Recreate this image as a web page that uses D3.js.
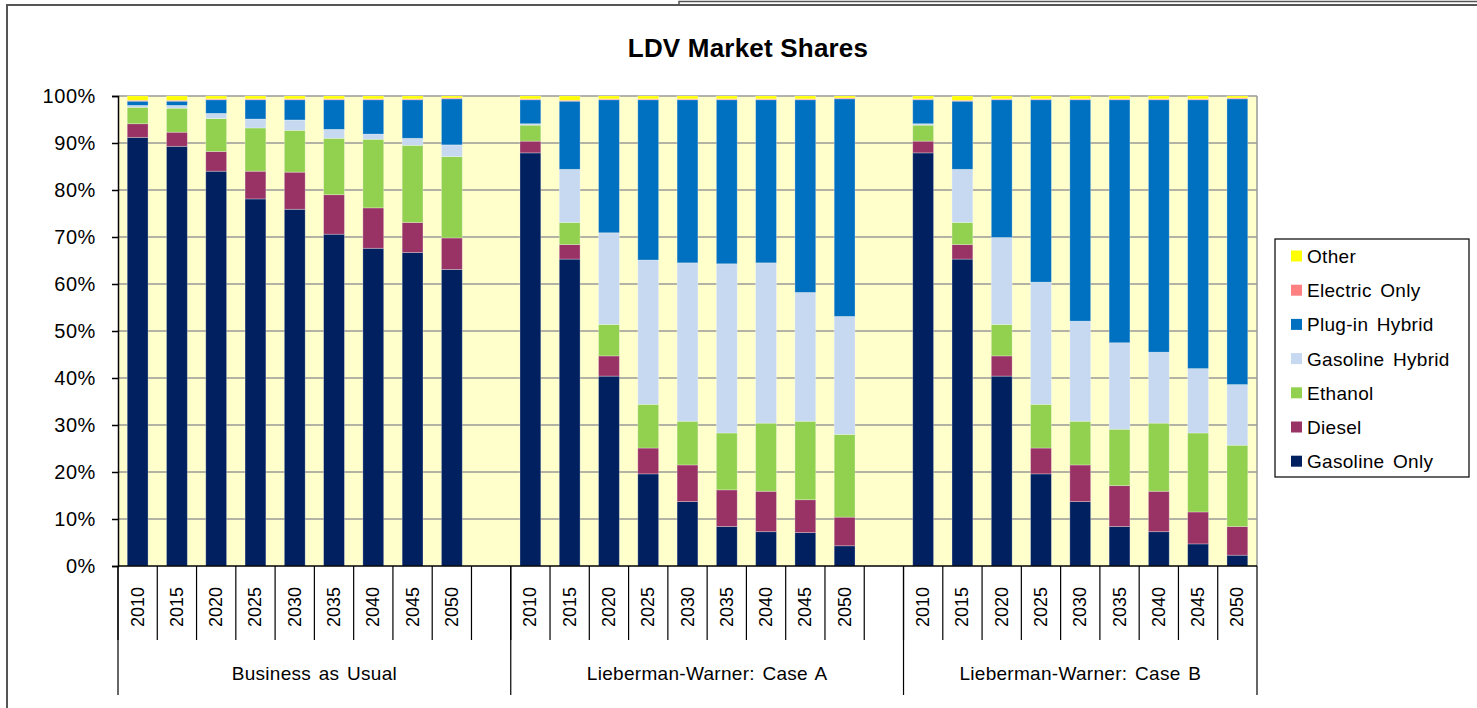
<!DOCTYPE html>
<html>
<head>
<meta charset="utf-8">
<title>LDV Market Shares</title>
<script src="https://d3js.org/d3.v7.min.js"></script>
<style>
  body { margin: 0; background: #fff; }
  text { font-family: "Liberation Sans", Arial, sans-serif; fill: #000; }
</style>
</head>
<body>
<script>
// data (percent of sales)
var years = ['2010', '2015', '2020', '2025', '2030', '2035', '2040', '2045', '2050'];
var scenarios = ['Business as Usual', 'Lieberman-Warner: Case A', 'Lieberman-Warner: Case B'];
var seriesNames = ['Gasoline Only', 'Diesel', 'Ethanol', 'Gasoline Hybrid', 'Plug-in Hybrid', 'Electric Only', 'Other'];
var seriesColors = ['#002060', '#993366', '#92D050', '#C6D9F1', '#0070C0', '#FF8080', '#FFFF00'];
var yTicks = [0, 10, 20, 30, 40, 50, 60, 70, 80, 90, 100];

// 27 values each: BAU 2010..2050, Case A 2010..2050, Case B 2010..2050
var gasolineOnly = [91.2, 89.3, 84.0, 78.1, 75.9, 70.6, 67.6, 66.7, 63.1,
                    87.9, 65.3, 40.4, 19.6, 13.7, 8.4, 7.3, 7.1, 4.3,
                    87.9, 65.3, 40.4, 19.6, 13.7, 8.4, 7.3, 4.7, 2.3];
var diesel = [2.9, 3.0, 4.2, 5.9, 7.9, 8.4, 8.6, 6.4, 6.7,
              2.5, 3.1, 4.3, 5.5, 7.8, 7.8, 8.6, 7.0, 6.1,
              2.5, 3.1, 4.3, 5.5, 7.8, 8.7, 8.6, 6.8, 6.1];
var ethanol = [3.5, 5.1, 7.0, 9.2, 8.9, 12.0, 14.6, 16.4, 17.3,
               3.4, 4.7, 6.7, 9.3, 9.3, 12.1, 14.5, 16.7, 17.6,
               3.4, 4.7, 6.7, 9.3, 9.3, 12.0, 14.5, 16.8, 17.3];
var gasolineHybrid = [0.4, 0.6, 1.1, 1.9, 2.2, 1.9, 1.1, 1.5, 2.5,
                      0.3, 11.3, 19.5, 30.7, 33.7, 36.0, 34.1, 27.4, 25.1,
                      0.3, 11.3, 18.5, 26.0, 21.3, 18.4, 15.1, 13.7, 12.9];
var plugInHybrid = [0.9, 0.9, 2.9, 4.1, 4.3, 6.3, 7.3, 8.2, 9.8,
                    5.1, 14.5, 28.3, 34.1, 34.7, 34.9, 34.7, 41.0, 46.3,
                    5.1, 14.5, 29.3, 38.8, 47.1, 51.7, 53.7, 57.2, 60.8];
var electricOnly = [0.2, 0.2, 0.2, 0.2, 0.2, 0.2, 0.2, 0.2, 0.2,
                    0.2, 0.2, 0.2, 0.2, 0.2, 0.2, 0.2, 0.2, 0.2,
                    0.2, 0.2, 0.2, 0.2, 0.2, 0.2, 0.2, 0.2, 0.2];
var other = [0.9, 0.9, 0.6, 0.6, 0.6, 0.6, 0.6, 0.6, 0.4,
             0.6, 0.9, 0.6, 0.6, 0.6, 0.6, 0.6, 0.6, 0.4,
             0.6, 0.9, 0.6, 0.6, 0.6, 0.6, 0.6, 0.6, 0.4];

var seriesValues = [gasolineOnly, diesel, ethanol, gasolineHybrid, plugInHybrid, electricOnly, other];

var svgWidth = 1477, svgHeight = 708;
var plotLeft = 118, plotRight = 1257, plotTop = 96, plotBottom = 566;

// categories: 9 years per scenario, with an empty slot after the first two scenarios
var categories = [];
var rows = [];
scenarios.forEach(function(s, si) {
  years.forEach(function(y, yi) {
    var key = s + '|' + y;
    categories.push(key);
    var row = { key: key, year: y };
    seriesNames.forEach(function(n, ni) { row[n] = seriesValues[ni][si * 9 + yi]; });
    rows.push(row);
  });
  if (si < scenarios.length - 1) categories.push('gap' + si);
});

var xScale = d3.scaleBand()
  .domain(categories)
  .range([plotLeft, plotRight])
  .paddingInner(0.47)
  .paddingOuter(0.235);

var yScale = d3.scaleLinear()
  .domain([0, 100])
  .range([plotBottom, plotTop]);

var stacked = d3.stack().keys(seriesNames)(rows);

var svg = d3.select('body').append('svg')
  .attr('width', svgWidth)
  .attr('height', svgHeight);

// chart frame
svg.append('rect')
  .attr('x', 7).attr('y', 5)
  .attr('width', svgWidth + 20).attr('height', svgHeight + 20)
  .attr('fill', '#fff')
  .attr('stroke', '#555').attr('stroke-width', 2);

// edge of a neighbouring frame at the top right
svg.append('path')
  .attr('d', 'M679,4V1.5H' + (svgWidth + 5))
  .attr('fill', 'none')
  .attr('stroke', '#555').attr('stroke-width', 1.5);

// title
svg.append('text')
  .attr('x', 748).attr('y', 57)
  .attr('text-anchor', 'middle')
  .style('font-size', '26px').style('font-weight', 'bold')
  .style('letter-spacing', '0.2px')
  .text('LDV Market Shares');

// plot area
svg.append('rect')
  .attr('x', plotLeft).attr('y', plotTop)
  .attr('width', plotRight - plotLeft).attr('height', plotBottom - plotTop)
  .attr('fill', '#FFFFCC');

// gridlines
svg.append('g')
  .selectAll('line')
  .data(yTicks.filter(function(d) { return d > 0; }))
  .enter().append('line')
  .attr('x1', plotLeft).attr('x2', plotRight)
  .attr('y1', function(d) { return yScale(d); })
  .attr('y2', function(d) { return yScale(d); })
  .attr('stroke', '#999').attr('stroke-width', 1.5);

svg.append('line')
  .attr('x1', plotRight).attr('x2', plotRight)
  .attr('y1', plotTop).attr('y2', plotBottom)
  .attr('stroke', '#999').attr('stroke-width', 1.5);

// bars
svg.append('g')
  .selectAll('g')
  .data(stacked)
  .enter().append('g')
  .attr('fill', function(d, i) { return seriesColors[i]; })
  .selectAll('rect')
  .data(function(d) { return d; })
  .enter().append('rect')
  .attr('x', function(d) { return xScale(d.data.key); })
  .attr('width', xScale.bandwidth())
  .attr('y', function(d) { return yScale(d[1]); })
  .attr('height', function(d) { return yScale(d[0]) - yScale(d[1]); })
  .attr('stroke', 'rgba(255,255,255,0.35)')
  .attr('stroke-width', 0.8);

// y axis
var yAxis = d3.axisLeft(yScale)
  .tickValues(yTicks)
  .tickSize(6)
  .tickFormat(function(d) { return d + '%'; });

var yg = svg.append('g')
  .attr('transform', 'translate(' + plotLeft + ',0)')
  .call(yAxis);
yg.select('.domain').attr('stroke', '#000').attr('stroke-width', 1.5);
yg.selectAll('.tick line').attr('stroke', '#000').attr('stroke-width', 1.5);
yg.selectAll('.tick text')
  .attr('x', -22)
  .style('font-size', '20px')
  .style('letter-spacing', '0.6px')
  .style('font-family', '"Liberation Sans", Arial, sans-serif');

// x axis: baseline, separators and labels
svg.append('line')
  .attr('x1', plotLeft).attr('x2', plotRight)
  .attr('y1', plotBottom).attr('y2', plotBottom)
  .attr('stroke', '#000').attr('stroke-width', 1.5);

var step = xScale.step();
var halfGap = (step - xScale.bandwidth()) / 2;
var xAxisG = svg.append('g');

// category separators
xAxisG.selectAll('line.sep')
  .data(categories)
  .enter().append('line')
  .attr('class', 'sep')
  .attr('x1', function(d) { return xScale(d) - halfGap; })
  .attr('x2', function(d) { return xScale(d) - halfGap; })
  .attr('y1', plotBottom).attr('y2', 640)
  .attr('stroke', '#000').attr('stroke-width', 1.2);

// scenario separators
var groupEdges = [plotLeft,
  xScale('gap0') + xScale.bandwidth() + halfGap,
  xScale('gap1') + xScale.bandwidth() + halfGap,
  plotRight];
xAxisG.selectAll('line.grp')
  .data(groupEdges)
  .enter().append('line')
  .attr('class', 'grp')
  .attr('x1', function(d) { return d; })
  .attr('x2', function(d) { return d; })
  .attr('y1', plotBottom).attr('y2', 695)
  .attr('stroke', '#000').attr('stroke-width', 1.2);

// year labels
xAxisG.selectAll('text.year')
  .data(rows)
  .enter().append('text')
  .attr('class', 'year')
  .attr('transform', function(d) {
    return 'translate(' + (xScale(d.key) + xScale.bandwidth() / 2 + 6) + ',607) rotate(-90)';
  })
  .attr('text-anchor', 'middle')
  .style('font-size', '18px')
  .text(function(d) { return d.year; });

// scenario labels
xAxisG.selectAll('text.scen')
  .data(scenarios)
  .enter().append('text')
  .attr('class', 'scen')
  .attr('x', function(d, i) { return (groupEdges[i] + groupEdges[i + 1]) / 2; })
  .attr('y', 680)
  .attr('text-anchor', 'middle')
  .style('font-size', '19px')
  .style('letter-spacing', '0.3px')
  .style('word-spacing', '2px')
  .text(function(d) { return d; });

// legend
var legend = svg.append('g');
legend.append('rect')
  .attr('x', 1275).attr('y', 239)
  .attr('width', 194).attr('height', 238)
  .attr('fill', '#fff')
  .attr('stroke', '#000').attr('stroke-width', 1.2);

var legendOrder = seriesNames.slice().reverse();
var legendItems = legend.selectAll('g.item')
  .data(legendOrder)
  .enter().append('g')
  .attr('class', 'item')
  .attr('transform', function(d, i) { return 'translate(1291,' + (256 + i * 34.2) + ')'; });

legendItems.append('rect')
  .attr('x', 0).attr('y', -5.5)
  .attr('width', 11).attr('height', 11)
  .attr('fill', function(d) { return seriesColors[seriesNames.indexOf(d)]; });

legendItems.append('text')
  .attr('x', 16).attr('y', 7)
  .style('font-size', '19px')
  .style('letter-spacing', '0.3px')
  .style('word-spacing', '3px')
  .text(function(d) { return d; });
</script>
</body>
</html>
